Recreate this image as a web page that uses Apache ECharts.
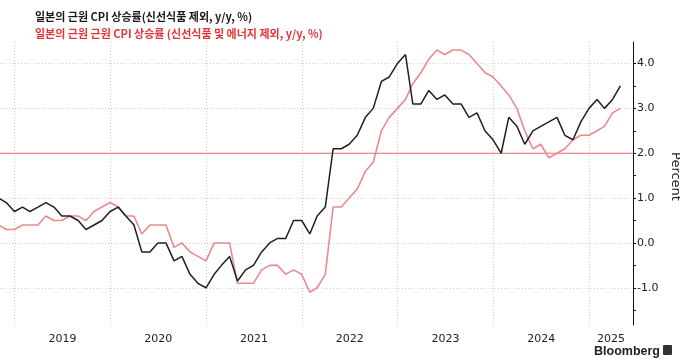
<!DOCTYPE html>
<html><head><meta charset="utf-8">
<script src="https://cdn.jsdelivr.net/npm/echarts@6/dist/echarts.min.js"></script>
<style>html,body{margin:0;padding:0;background:#fff}#c{width:680px;height:359px}</style>
</head><body><div id="c"></div>
<script>
// ---- data ----
const seriesNames = [
  '일본의 근원 CPI 상승률(신선식품 제외, y/y, %)',
  '일본의 근원 근원 CPI 상승률 (신선식품 및 에너지 제외, y/y, %)'
];
const firstYear = 2018, firstMonth = 10; // Oct 2018 (monthly, month-end)
// core CPI ex fresh food, y/y %
const coreCPI = [
  1.0, 0.9, 0.7,
  0.8, 0.7, 0.8, 0.9, 0.8, 0.6, 0.6, 0.5, 0.3, 0.4, 0.5, 0.7,
  0.8, 0.6, 0.4, -0.2, -0.2, 0.0, 0.0, -0.4, -0.3, -0.7, -0.9, -1.0,
  -0.7, -0.5, -0.3, -0.85, -0.6, -0.5, -0.2, 0.0, 0.1, 0.1, 0.5, 0.5,
  0.2, 0.6, 0.8, 2.1, 2.1, 2.2, 2.4, 2.8, 3.0, 3.6, 3.7, 4.0,
  4.2, 3.1, 3.1, 3.4, 3.2, 3.3, 3.1, 3.1, 2.8, 2.9, 2.5, 2.3,
  2.0, 2.8, 2.6, 2.2, 2.5, 2.6, 2.7, 2.8, 2.4, 2.3, 2.7, 3.0,
  3.2, 3.0, 3.2, 3.5
];
// core-core CPI ex fresh food & energy, y/y %
const coreCoreCPI = [
  0.4, 0.3, 0.3,
  0.4, 0.4, 0.4, 0.6, 0.5, 0.5, 0.6, 0.6, 0.5, 0.7, 0.8, 0.9,
  0.8, 0.6, 0.6, 0.2, 0.4, 0.4, 0.4, -0.1, 0.0, -0.2, -0.3, -0.4,
  0.0, 0.0, 0.0, -0.9, -0.9, -0.9, -0.6, -0.5, -0.5, -0.7, -0.6, -0.7,
  -1.1, -1.0, -0.7, 0.8, 0.8, 1.0, 1.2, 1.6, 1.8, 2.5, 2.8, 3.0,
  3.2, 3.55, 3.8, 4.1, 4.3, 4.2, 4.3, 4.3, 4.2, 4.0, 3.8, 3.7,
  3.5, 3.3, 3.0, 2.5, 2.1, 2.2, 1.9, 2.0, 2.1, 2.3, 2.4, 2.4,
  2.5, 2.6, 2.9, 3.0
];
const yearTicks = [2019, 2020, 2021, 2022, 2023, 2024, 2025];
const yLabelValues = [-1, 0, 1, 2, 3, 4];
const yTickValues = [-1.5, -1, -0.5, 0, 0.5, 1, 1.5, 2, 2.5, 3, 3.5, 4];
const yGridValues = [-1, 0, 1, 3, 4];
const targetLevel = 2;
const yMin = -1.83, yMax = 4.48;
const xMin = new Date(2018, 10, 6).getTime();
const xMax = new Date(2025, 5, 17).getTime();

// ---- build ----
const monthEnd = i => new Date(firstYear, firstMonth - 1 + i + 1, 0).getTime();
const toPairs = arr => arr.map((v, i) => [monthEnd(i), v]);
const jan1 = y => new Date(y, 0, 1).getTime();
const yearTickTs = yearTicks.map(jan1);
const yearLabelTs = yearTicks.map(y => (jan1(y) + Math.min(jan1(y + 1), xMax)) / 2);

const chart = echarts.init(document.getElementById('c'), null, {renderer: 'canvas'});
chart.setOption({
  animation: false,
  backgroundColor: '#fff',
  legend: {
    orient: 'vertical', left: 25, top: 5, itemGap: 5,
    icon: 'none', itemWidth: 0, itemHeight: 13,
    selectedMode: false,
    textStyle: {fontFamily: 'Noto Sans CJK KR', fontSize: 11, fontWeight: 'bold'},
    data: [
      {name: seriesNames[0], textStyle: {color: '#1a1a1a'}},
      {name: seriesNames[1], textStyle: {color: '#e2353a'}}
    ]
  },
  grid: {left: 0, right: 47, top: 42, bottom: 34, containLabel: false, outerBoundsMode: 'none'},
  xAxis: {
    type: 'value', min: xMin, max: xMax, scale: true,
    axisLine: {show: false, onZero: false},
    axisTick: {show: false, customValues: yearTickTs},
    splitLine: {show: true, lineStyle: {color: '#cfcfcf', type: [1, 2], width: 1}},
    axisLabel: {
      customValues: yearLabelTs,
      formatter: v => String(new Date(v).getFullYear()),
      fontFamily: 'DejaVu Sans', fontSize: 11, color: '#222', margin: 9
    }
  },
  yAxis: [{
    type: 'value', position: 'right', min: yMin, max: yMax,
    axisLine: {show: true, onZero: false, lineStyle: {color: '#111', width: 1}},
    axisTick: {show: true, length: 3, customValues: yTickValues, lineStyle: {color: '#111'}},
    axisLabel: {customValues: yLabelValues, formatter: v => v.toFixed(1),
      fontFamily: 'DejaVu Sans', fontSize: 11, color: '#222', margin: 4},
    splitLine: {show: false},
    name: 'Percent', nameLocation: 'middle', nameRotate: -90, nameGap: 33,
    nameTextStyle: {fontFamily: 'DejaVu Sans', fontSize: 13, color: '#222', padding: [0, 14, 0, 0]}
  }, {
    type: 'value', position: 'right', min: yMin, max: yMax,
    axisLine: {show: false}, axisLabel: {show: false},
    axisTick: {show: false, customValues: yGridValues},
    splitLine: {show: true, lineStyle: {color: '#cfcfcf', type: [1, 2], width: 1}}
  }],
  series: [{
    name: seriesNames[1], type: 'line', yAxisIndex: 0, showSymbol: false, symbol: 'none',
    data: toPairs(coreCoreCPI),
    lineStyle: {color: '#ea8a8c', width: 1.6}, itemStyle: {color: '#ea8a8c'}
  }, {
    name: seriesNames[0], type: 'line', yAxisIndex: 0, showSymbol: false, symbol: 'none',
    data: toPairs(coreCPI),
    lineStyle: {color: '#1f1f1f', width: 1.5}, itemStyle: {color: '#1f1f1f'}
  }, {
    name: 'target', type: 'line', yAxisIndex: 0, showSymbol: false, symbol: 'none',
    silent: true, z: 1,
    data: [[xMin, targetLevel], [xMax, targetLevel]],
    lineStyle: {color: '#e8686b', width: 1.2, type: 'solid'}, itemStyle: {color: '#e8686b'}
  }],
  graphic: [{
    type: 'text', right: 20, bottom: 1,
    style: {text: 'Bloomberg', font: 'bold 12.5px "Liberation Sans", Arial, sans-serif', fill: '#222'}
  }, {
    type: 'rect', right: 8, bottom: 4, shape: {width: 9, height: 10, r: 1}, style: {fill: '#333'}
  }]
});
</script></body></html>
